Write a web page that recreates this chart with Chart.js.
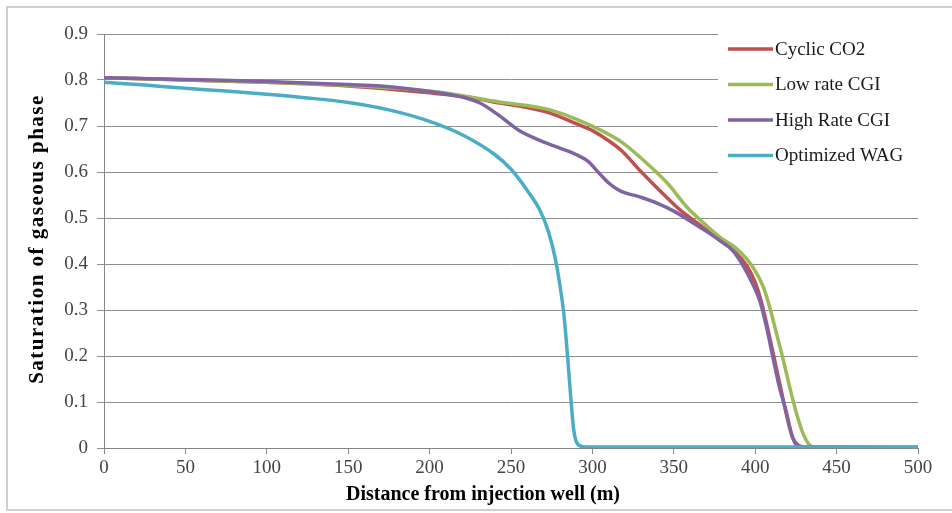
<!DOCTYPE html>
<html>
<head>
<meta charset="utf-8">
<script src="https://cdn.jsdelivr.net/npm/chart.js@4/dist/chart.umd.min.js"></script>
<style>
  html, body { margin: 0; padding: 0; background: #fff; }
  #wrap { width: 952px; height: 513px; }
</style>
</head>
<body>
<div id="wrap"><canvas id="chart" width="952" height="513"></canvas></div>
<script>
// values
const seriesNames = ["Cyclic CO2", "Low rate CGI", "High Rate CGI", "Optimized WAG"];
const seriesColors = ["#c0504d", "#9bbb59", "#8064a2", "#4bacc6"];

const cyclicDistance = [0, 50, 100, 150, 200, 225, 243, 260, 274, 290, 300, 310, 318, 329, 341, 354, 366, 378, 388, 395, 400, 404, 408, 412, 416, 420, 423, 427, 432, 500];
const cyclicSaturation = [0.805, 0.800, 0.795, 0.787, 0.772, 0.762, 0.750, 0.740, 0.728, 0.705, 0.690, 0.668, 0.646, 0.604, 0.561, 0.517, 0.485, 0.452, 0.425, 0.395, 0.360, 0.315, 0.255, 0.190, 0.125, 0.060, 0.022, 0.005, 0.001, 0.001];

const lowDistance = [0, 50, 100, 150, 200, 243, 274, 290, 305, 318, 329, 346, 358, 368, 378, 388, 395, 400, 405, 409, 413, 417, 421, 425, 429, 433, 437, 500];
const lowSaturation = [0.805, 0.800, 0.795, 0.788, 0.776, 0.752, 0.735, 0.715, 0.691, 0.665, 0.633, 0.576, 0.524, 0.490, 0.459, 0.435, 0.410, 0.385, 0.350, 0.305, 0.250, 0.195, 0.135, 0.080, 0.035, 0.008, 0.002, 0.001];

const highDistance = [0, 50, 100, 150, 170, 200, 220, 231, 243, 255, 268, 280, 290, 297, 304, 310, 317, 329, 340, 350, 366, 378, 386, 392, 398, 403, 407, 411, 415, 419, 422, 425, 430, 500];
const highSaturation = [0.805, 0.801, 0.797, 0.790, 0.787, 0.775, 0.763, 0.750, 0.722, 0.690, 0.668, 0.652, 0.638, 0.624, 0.598, 0.576, 0.559, 0.546, 0.532, 0.515, 0.480, 0.452, 0.430, 0.400, 0.360, 0.318, 0.262, 0.195, 0.130, 0.080, 0.035, 0.008, 0.002, 0.001];

const wagDistance = [0, 25, 50, 75, 100, 125, 150, 175, 200, 220, 240, 250, 260, 268, 273, 277, 280, 282.5, 284.5, 286.5, 288.5, 291, 296, 400, 500];
const wagSaturation = [0.795, 0.789, 0.782, 0.776, 0.769, 0.761, 0.751, 0.735, 0.710, 0.681, 0.638, 0.606, 0.560, 0.515, 0.470, 0.415, 0.355, 0.290, 0.210, 0.120, 0.040, 0.008, 0.002, 0.002, 0.002];

const xTitle = "Distance from injection well (m)";
const yTitle = "Saturation of gaseous phase";

function toPoints(xs, ys) {
  return xs.map((x, i) => ({ x: x, y: ys[i] }));
}

const allSeries = [
  toPoints(cyclicDistance, cyclicSaturation),
  toPoints(lowDistance, lowSaturation),
  toPoints(highDistance, highSaturation),
  toPoints(wagDistance, wagSaturation),
];

const datasets = allSeries.map((points, i) => ({
  label: seriesNames[i],
  data: points,
  borderColor: seriesColors[i],
  backgroundColor: seriesColors[i],
  borderWidth: 3.5,
  pointRadius: 0,
  cubicInterpolationMode: "monotone",
  fill: false,
  order: 4 - i, // later series on top, as in the original
}));

const serif = "'Liberation Serif', 'DejaVu Serif', serif";

// frame, axis titles and the legend box over the top right of the plot
const decorPlugin = {
  id: "decor",
  beforeDraw(chart) {
    const ctx = chart.ctx;
    ctx.save();
    ctx.fillStyle = "#fff";
    ctx.fillRect(0, 0, chart.width, chart.height);
    ctx.strokeStyle = "#cfcfcf";
    ctx.lineWidth = 2;
    ctx.strokeRect(7, 7, chart.width, chart.height - 10);
    ctx.restore();
  },
  beforeDatasetsDraw(chart) {
    const ctx = chart.ctx;
    const area = chart.chartArea;
    ctx.save();
    // legend
    ctx.fillStyle = "#fff";
    ctx.fillRect(718, area.top - 2, area.right - 718 + 2, 160);
    ctx.font = "19px " + serif;
    ctx.textBaseline = "middle";
    ctx.textAlign = "left";
    seriesNames.forEach((name, i) => {
      const y = 49 + i * 35.5;
      ctx.strokeStyle = seriesColors[i];
      ctx.lineWidth = 3.5;
      ctx.beginPath();
      ctx.moveTo(728, y);
      ctx.lineTo(773, y);
      ctx.stroke();
      ctx.fillStyle = "#1a1a1a";
      ctx.fillText(name, 775, y + 1);
    });
    // axis titles
    ctx.fillStyle = "#000";
    ctx.font = "bold 20px " + serif;
    ctx.textAlign = "center";
    ctx.fillText(xTitle, 483, 495);
    ctx.translate(38, 239);
    ctx.rotate(-Math.PI / 2);
    ctx.font = "bold 21px " + serif;
    ctx.letterSpacing = "1.5px";
    ctx.fillText(yTitle, 0, 0);
    ctx.restore();
  },
};

new Chart(document.getElementById("chart"), {
  type: "line",
  data: { datasets: datasets },
  plugins: [decorPlugin],
  options: {
    responsive: false,
    animation: false,
    layout: { padding: { top: 34, right: 34, left: 0, bottom: 0 } },
    plugins: {
      legend: { display: false },
      tooltip: { enabled: false },
    },
    scales: {
      x: {
        type: "linear",
        min: 0,
        max: 500,
        ticks: {
          stepSize: 50,
          color: "#444",
          padding: 3,
          font: { family: serif, size: 19 },
        },
        grid: {
          drawOnChartArea: false,
          drawTicks: true,
          tickLength: 6,
          color: "#868686",
        },
        border: { color: "#868686", width: 1 },
        afterFit(scale) {
          scale.height = 65;
        },
      },
      y: {
        type: "linear",
        min: 0,
        max: 0.9,
        ticks: {
          stepSize: 0.1,
          color: "#444",
          padding: 9,
          font: { family: serif, size: 19 },
        },
        grid: {
          color: "#8f8f8f",
          lineWidth: 1,
          drawTicks: true,
          tickLength: 7,
        },
        border: { color: "#868686", width: 1 },
        afterFit(scale) {
          scale.width = 104;
        },
      },
    },
  },
});
</script>
</body>
</html>
